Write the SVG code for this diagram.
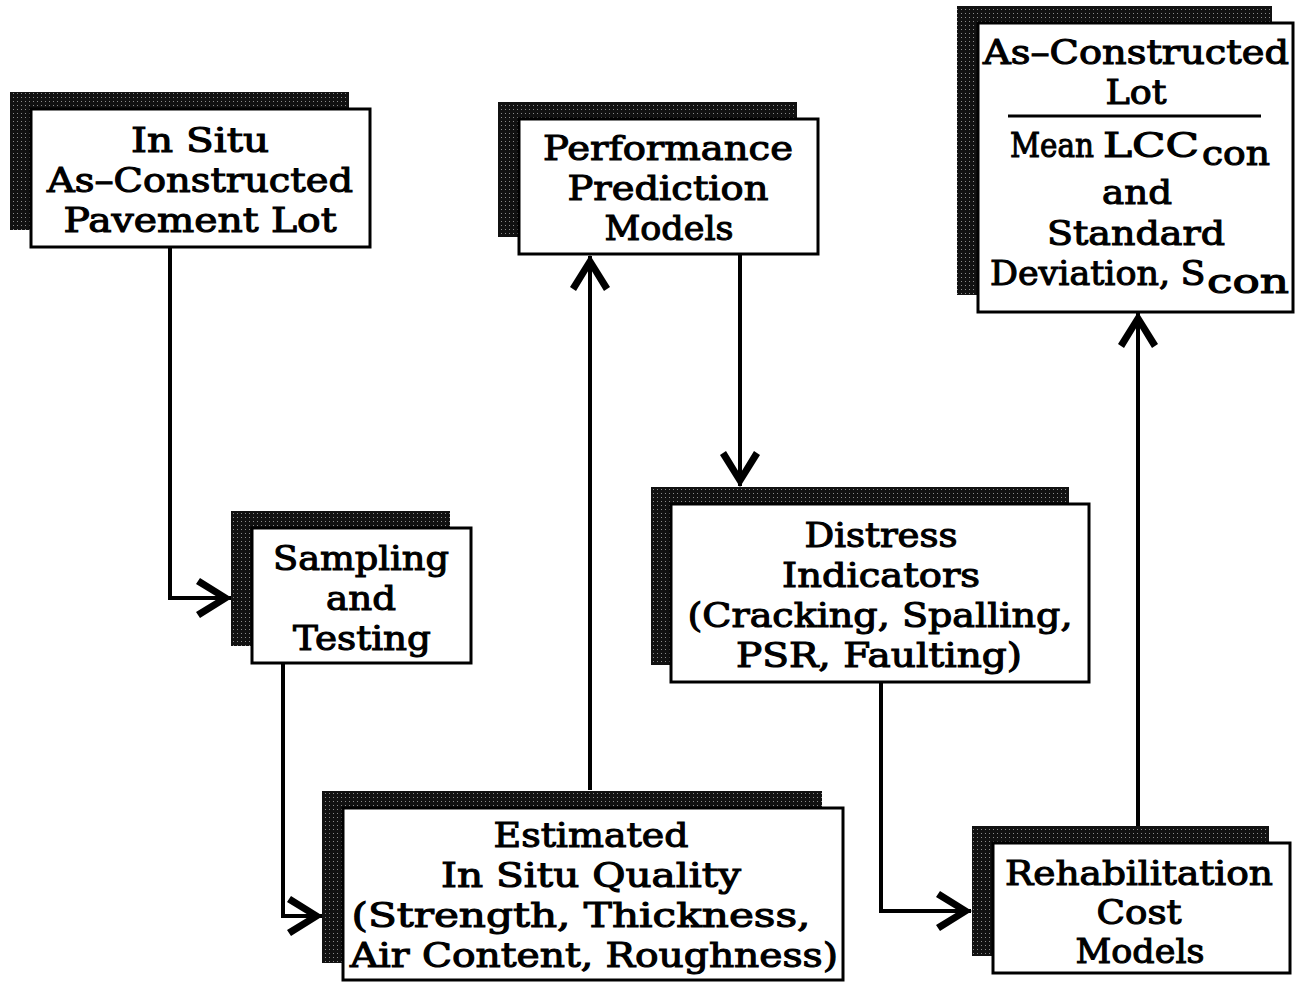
<svg xmlns="http://www.w3.org/2000/svg" width="1299" height="984" viewBox="0 0 1299 984">
<style>
.box{fill:#fff;stroke:#000;stroke-width:3}
.sh{fill:url(#dots)}
.t{font-family:"DejaVu Serif","Liberation Serif",serif;font-weight:normal;font-size:34px;fill:#000;stroke:#000;stroke-width:1.1;text-anchor:middle}
.c{fill:none;stroke:#000;stroke-width:4}
</style>
<defs>
<pattern id="dots" width="4" height="4" patternUnits="userSpaceOnUse">
<rect width="4" height="4" fill="#111"/>
<rect x="1" y="1" width="1" height="1" fill="#8a8a8a"/>
</pattern>
<marker id="ah" markerUnits="userSpaceOnUse" viewBox="-40 -25 45 50" markerWidth="45" markerHeight="50" refX="0" refY="0" orient="auto" overflow="visible">
<polygon points="1,0 -31,-20 -35,-14 -12,0 -35,14 -31,20" fill="#000"/>
</marker>
</defs>
<rect width="1299" height="984" fill="#fff"/>

<g id="connectors">
<path class="c" d="M170,247 V598 H231" marker-end="url(#ah)"/>
<path class="c" d="M283,663 V916 H322" marker-end="url(#ah)"/>
<path class="c" d="M590,790 V256" marker-end="url(#ah)"/>
<path class="c" d="M740,254 V486" marker-end="url(#ah)"/>
<path class="c" d="M881,682 V911 H971" marker-end="url(#ah)"/>
<path class="c" d="M1138,826 V313" marker-end="url(#ah)"/>
</g>

<g id="node-insitu">
<rect class="sh" x="10" y="92" width="339" height="138"/>
<rect class="box" x="31" y="109" width="339" height="138"/>
<text class="t" x="200" y="152" textLength="138" lengthAdjust="spacingAndGlyphs">In Situ</text>
<text class="t" x="200" y="192" textLength="306" lengthAdjust="spacingAndGlyphs">As–Constructed</text>
<text class="t" x="200" y="232" textLength="273" lengthAdjust="spacingAndGlyphs">Pavement Lot</text>
</g>

<g id="node-performance">
<rect class="sh" x="498" y="102" width="299" height="135"/>
<rect class="box" x="519" y="119" width="299" height="135"/>
<text class="t" x="668" y="160" textLength="250" lengthAdjust="spacingAndGlyphs">Performance</text>
<text class="t" x="668" y="200" textLength="201" lengthAdjust="spacingAndGlyphs">Prediction</text>
<text class="t" x="669" y="240" textLength="129" lengthAdjust="spacingAndGlyphs">Models</text>
</g>

<g id="node-lot">
<rect class="sh" x="957" y="6" width="315" height="289"/>
<rect class="box" x="978" y="23" width="315" height="289"/>
<text class="t" x="1136" y="64" textLength="306" lengthAdjust="spacingAndGlyphs">As–Constructed</text>
<text class="t" x="1136" y="104" textLength="61" lengthAdjust="spacingAndGlyphs">Lot</text>
<line x1="1008" y1="116" x2="1261" y2="116" stroke="#000" stroke-width="3"/>
<text class="t" x="1052" y="157" textLength="84" lengthAdjust="spacingAndGlyphs">Mean</text>
<text class="t" x="1151" y="157" font-size="38" stroke-width="0.8" textLength="96" lengthAdjust="spacingAndGlyphs">LCC</text>
<text class="t" x="1236" y="165" textLength="68" lengthAdjust="spacingAndGlyphs">con</text>
<text class="t" x="1137" y="204" textLength="70" lengthAdjust="spacingAndGlyphs">and</text>
<text class="t" x="1136" y="245" textLength="178" lengthAdjust="spacingAndGlyphs">Standard</text>
<text class="t" x="1080" y="285" textLength="180" lengthAdjust="spacingAndGlyphs">Deviation,</text>
<text class="t" x="1193" y="285" textLength="25" lengthAdjust="spacingAndGlyphs">S</text>
<text class="t" x="1248" y="293" textLength="82" lengthAdjust="spacingAndGlyphs">con</text>
</g>

<g id="node-sampling">
<rect class="sh" x="231" y="511" width="219" height="135"/>
<rect class="box" x="252" y="528" width="219" height="135"/>
<text class="t" x="361" y="570" textLength="176" lengthAdjust="spacingAndGlyphs">Sampling</text>
<text class="t" x="361" y="610" textLength="70" lengthAdjust="spacingAndGlyphs">and</text>
<text class="t" x="362" y="650" textLength="138" lengthAdjust="spacingAndGlyphs">Testing</text>
</g>

<g id="node-estimated">
<rect class="sh" x="322" y="791" width="500" height="172"/>
<rect class="box" x="343" y="808" width="500" height="172"/>
<text class="t" x="591" y="847" textLength="195" lengthAdjust="spacingAndGlyphs">Estimated</text>
<text class="t" x="591" y="887" textLength="300" lengthAdjust="spacingAndGlyphs">In Situ Quality</text>
<text class="t" x="581" y="927" textLength="459" lengthAdjust="spacingAndGlyphs">(Strength, Thickness,</text>
<text class="t" x="594" y="967" textLength="488" lengthAdjust="spacingAndGlyphs">Air Content, Roughness)</text>
</g>

<g id="node-distress">
<rect class="sh" x="651" y="487" width="418" height="178"/>
<rect class="box" x="671" y="504" width="418" height="178"/>
<text class="t" x="881" y="547" textLength="153" lengthAdjust="spacingAndGlyphs">Distress</text>
<text class="t" x="881" y="587" textLength="198" lengthAdjust="spacingAndGlyphs">Indicators</text>
<text class="t" x="880" y="627" textLength="385" lengthAdjust="spacingAndGlyphs">(Cracking, Spalling,</text>
<text class="t" x="879" y="667" textLength="286" lengthAdjust="spacingAndGlyphs">PSR, Faulting)</text>
</g>

<g id="node-rehab">
<rect class="sh" x="972" y="826" width="297" height="130"/>
<rect class="box" x="993" y="843" width="297" height="130"/>
<text class="t" x="1139" y="885" textLength="268" lengthAdjust="spacingAndGlyphs">Rehabilitation</text>
<text class="t" x="1139" y="924" textLength="85" lengthAdjust="spacingAndGlyphs">Cost</text>
<text class="t" x="1140" y="963" textLength="129" lengthAdjust="spacingAndGlyphs">Models</text>
</g>
</svg>
